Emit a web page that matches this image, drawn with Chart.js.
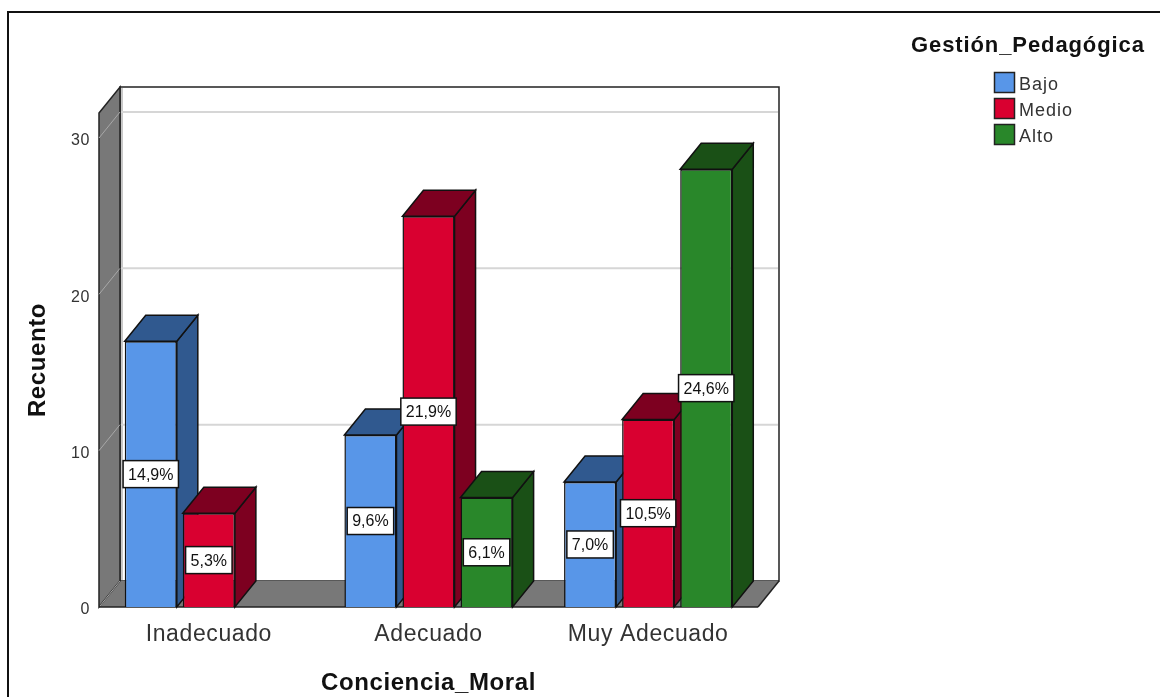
<!DOCTYPE html>
<html>
<head>
<meta charset="utf-8">
<script src="https://cdn.jsdelivr.net/npm/chart.js@4"></script>
<style>
  html, body { margin: 0; padding: 0; background: #fff; overflow: hidden; }
  canvas { display: block; }
</style>
</head>
<body>
<canvas id="myChart" width="1160" height="697"></canvas>
<script>
var categories = ['Inadecuado', 'Adecuado', 'Muy Adecuado']
var bajo = [17, 11, 8]
var medio = [6, 25, 12]
var alto = [null, 7, 28]
var bajoPct = ['14,9%', '9,6%', '7,0%']
var medioPct = ['5,3%', '21,9%', '10,5%']
var altoPct = ['', '6,1%', '24,6%']
var yTicks = [0, 10, 20, 30]

var DX = 21
var DY = 26
var FONT = '"Liberation Sans", Arial, sans-serif'

function poly(ctx, pts, fill, stroke, lw) {
    ctx.beginPath()
    ctx.moveTo(pts[0][0], pts[0][1])
    for (var i = 1; i < pts.length; i++) ctx.lineTo(pts[i][0], pts[i][1])
    ctx.closePath()
    if (fill) { ctx.fillStyle = fill; ctx.fill() }
    if (stroke) { ctx.strokeStyle = stroke; ctx.lineWidth = lw || 1; ctx.stroke() }
}

function line(ctx, x1, y1, x2, y2, color, lw) {
    ctx.strokeStyle = color
    ctx.lineWidth = lw
    ctx.beginPath()
    ctx.moveTo(x1, y1)
    ctx.lineTo(x2, y2)
    ctx.stroke()
}

var boxPlugin = {
    id: 'box3d',
    // walls, floor and back gridlines of the 3d box
    beforeDraw: function (chart) {
        var ctx = chart.ctx, a = chart.chartArea, y = chart.scales.y
        ctx.letterSpacing = '0.6px'

        ctx.save()
        line(ctx, 8, 697, 8, 12, '#111', 2)
        line(ctx, 7, 12, 1160, 12, '#111', 2)

        poly(ctx, [[a.left + DX, a.top - DY], [a.right + DX, a.top - DY], [a.right + DX, a.bottom - DY], [a.left + DX, a.bottom - DY]], '#fff', '#222', 1.5)
        // floor has no dark line along its back edge
        poly(ctx, [[a.left, a.bottom], [a.left + DX, a.bottom - DY], [a.right + DX, a.bottom - DY], [a.right, a.bottom]], '#787878')
        line(ctx, a.left, a.bottom, a.right, a.bottom, '#222', 1.5)
        line(ctx, a.right, a.bottom, a.right + DX, a.bottom - DY, '#222', 1.5)
        poly(ctx, [[a.left, a.top], [a.left + DX, a.top - DY], [a.left + DX, a.bottom - DY], [a.left, a.bottom]], '#787878', '#222', 1.5)
        line(ctx, a.left + DX + 2, a.top - DY + 1, a.left + DX + 2, a.bottom - DY - 1, '#c8c8c8', 2)

        yTicks.forEach(function (t) {
            if (t === 0) return
            var p = y.getPixelForValue(t)
            line(ctx, a.left + DX + 1, p - DY, a.right + DX - 1, p - DY, '#d6d6d6', 2)
            line(ctx, a.left, p, a.left + DX, p - DY, '#a8a8a8', 1)
        })
        line(ctx, a.left + 1, a.bottom - 1, a.left + DX, a.bottom - DY, '#a8a8a8', 1)
        ctx.restore()
    },
    // draw first series first so later bars sit over the side faces
    beforeDatasetsDraw: function (chart) {
        var ctx = chart.ctx
        chart.data.datasets.forEach(function (ds, d) {
            var meta = chart.getDatasetMeta(d)
            ctx.save()
            meta.data.forEach(function (bar, i) {
                if (ds.data[i] === null) return
                var p = bar.getProps(['x', 'y', 'base', 'width'], true)
                var l = p.x - p.width / 2, r = p.x + p.width / 2
                poly(ctx, [[r, p.y], [r + DX, p.y - DY], [r + DX, p.base - DY], [r, p.base]], ds.sideColor, '#111', 1.5)
                poly(ctx, [[l, p.y], [l + DX, p.y - DY], [r + DX, p.y - DY], [r, p.y]], ds.sideColor, '#111', 1.5)
            })
            ctx.restore()
            meta.controller.draw()
        })
    },
    beforeDatasetDraw: function () {
        return false
    },
    // percent boxes and legend
    afterDatasetsDraw: function (chart) {
        var ctx = chart.ctx
        ctx.save()
        ctx.font = '16px ' + FONT
        ctx.letterSpacing = '0px'
        ctx.textAlign = 'center'
        ctx.textBaseline = 'middle'
        chart.data.datasets.forEach(function (ds, d) {
            chart.getDatasetMeta(d).data.forEach(function (bar, i) {
                if (ds.data[i] === null) return
                var p = bar.getProps(['x', 'y', 'base'], true)
                var cy = (p.y + p.base) / 2
                var w = ctx.measureText(ds.pct[i]).width + 10
                ctx.fillStyle = '#fff'
                ctx.fillRect(p.x - w / 2, cy - 13.5, w, 27)
                ctx.strokeStyle = '#111'
                ctx.lineWidth = 1.5
                ctx.strokeRect(p.x - w / 2, cy - 13.5, w, 27)
                ctx.fillStyle = '#111'
                ctx.fillText(ds.pct[i], p.x, cy + 1)
            })
        })

        ctx.textAlign = 'left'
        ctx.fillStyle = '#111'
        ctx.font = 'bold 22px ' + FONT
        ctx.letterSpacing = '0.9px'
        ctx.fillText('Gestión_Pedagógica', 911, 46)
        ctx.font = '18px ' + FONT
        ctx.letterSpacing = '1px'
        chart.data.datasets.forEach(function (ds, d) {
            var top = 72 + d * 26
            ctx.fillStyle = ds.backgroundColor
            ctx.fillRect(994.5, top + .5, 20, 20)
            ctx.strokeStyle = '#222'
            ctx.lineWidth = 1.5
            ctx.strokeRect(994.5, top + .5, 20, 20)
            ctx.fillStyle = '#333'
            ctx.fillText(ds.label, 1019, top + 13)
        })
        ctx.restore()
    }
}

new Chart('myChart', {
    type: 'bar',
    data: {
        labels: categories,
        datasets: [
            { label: 'Bajo', data: bajo, pct: bajoPct, backgroundColor: '#5896e8', sideColor: '#30598f', borderColor: '#111', borderWidth: 1.5 },
            { label: 'Medio', data: medio, pct: medioPct, backgroundColor: '#d90030', sideColor: '#7d0020', borderColor: '#111', borderWidth: 1.5 },
            { label: 'Alto', data: alto, pct: altoPct, backgroundColor: '#29872a', sideColor: '#1a5016', borderColor: '#111', borderWidth: 1.5 }
        ]
    },
    plugins: [boxPlugin],
    options: {
        responsive: false,
        animation: false,
        layout: { padding: { top: 113, right: 402, bottom: 0, left: 0 } },
        datasets: { bar: { categoryPercentage: 0.793, barPercentage: 0.897 } },
        plugins: { legend: { display: false }, tooltip: { enabled: false } },
        scales: {
            x: {
                grid: { display: false },
                border: { display: false },
                afterFit: function (s) { s.height = 90 },
                ticks: { color: '#333', padding: 6, maxRotation: 0, font: { family: FONT, size: 23 } },
                title: { display: true, text: 'Conciencia_Moral', color: '#111', padding: { top: 0, bottom: -1 }, font: { family: FONT, size: 24, weight: 'bold' } }
            },
            y: {
                min: 0,
                max: 31.6,
                grid: { display: false, drawTicks: false },
                border: { display: false },
                afterFit: function (s) { s.width = 99 },
                ticks: { stepSize: 10, includeBounds: false, color: '#333', padding: 9, labelOffset: 3, font: { family: FONT, size: 16 } },
                title: { display: true, text: 'Recuento', color: '#111', padding: { top: 24, bottom: 0 }, font: { family: FONT, size: 24, weight: 'bold' } }
            }
        }
    }
})
</script>
</body>
</html>
